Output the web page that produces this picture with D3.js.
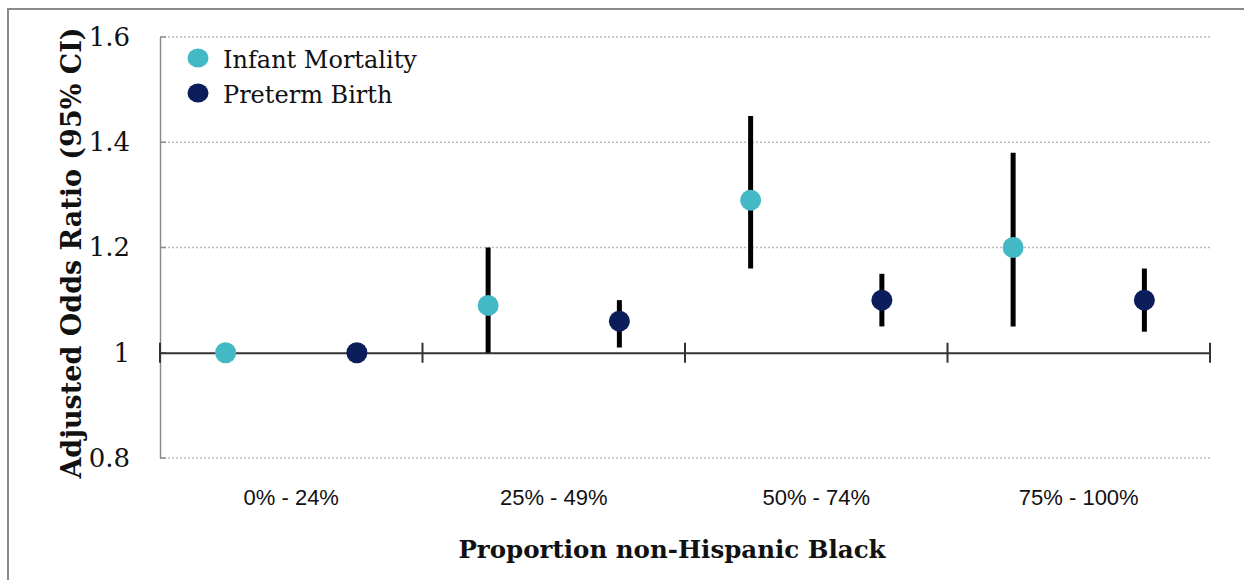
<!DOCTYPE html>
<html>
<head>
<meta charset="utf-8">
<script src="https://cdn.jsdelivr.net/npm/d3@7"></script>
<style>
  html, body { margin: 0; padding: 0; background: #fff; }
  svg { display: block; }
</style>
</head>
<body>
<svg id="chart" width="1244" height="580"></svg>
<script>
// Adjusted odds ratios by neighbourhood racial composition
const categories = ["0% - 24%", "25% - 49%", "50% - 74%", "75% - 100%"];
const seriesNames = ["Infant Mortality", "Preterm Birth"];
const infantOR    = [1.00, 1.09, 1.29, 1.20];
const infantLower = [1.00, 1.00, 1.16, 1.05];
const infantUpper = [1.00, 1.20, 1.45, 1.38];
const pretermOR    = [1.00, 1.06, 1.10, 1.10];
const pretermLower = [1.00, 1.01, 1.05, 1.04];
const pretermUpper = [1.00, 1.10, 1.15, 1.16];
const yTicks = [0.8, 1, 1.2, 1.4, 1.6];

const colors = { "Infant Mortality": "#43b9c6", "Preterm Birth": "#0b1e5b" };
const serif = "'DejaVu Serif', serif";
const sans = "'Liberation Sans', Arial, sans-serif";

const svg = d3.select("#chart");

// outer frame
svg.append("rect")
  .attr("x", 8).attr("y", 9)
  .attr("width", 1300).attr("height", 700)
  .attr("fill", "none").attr("stroke", "#8a8a8a").attr("stroke-width", 2);

const plot = { left: 160, right: 1210, top: 37, bottom: 458 };

const x = d3.scaleBand().domain(categories).range([plot.left, plot.right]).padding(0);
const y = d3.scaleLinear().domain([0.8, 1.6]).range([plot.bottom, plot.top]);

// dotted gridlines
svg.append("g").selectAll("line")
  .data(yTicks.filter(t => t !== 1))
  .join("line")
  .attr("x1", plot.left).attr("x2", plot.right)
  .attr("y1", d => y(d)).attr("y2", d => y(d))
  .attr("stroke", "#bdbdbd").attr("stroke-width", 1.5)
  .attr("stroke-dasharray", "2,2");

// y axis
const yAxis = d3.axisLeft(y).tickValues(yTicks).tickFormat(d => d === 1 ? "1" : d3.format(".1f")(d)).tickSize(0).tickPadding(30);
const gy = svg.append("g").attr("transform", `translate(${plot.left},0)`).call(yAxis);
gy.select(".domain").attr("stroke", "#8a8a8a").attr("stroke-width", 1.5);
gy.selectAll("text")
  .attr("font-family", serif).attr("font-size", 26).attr("fill", "#111");
// short inside tick marks
svg.append("g").selectAll("line")
  .data(yTicks)
  .join("line")
  .attr("x1", plot.left).attr("x2", plot.left + 6)
  .attr("y1", d => y(d)).attr("y2", d => y(d))
  .attr("stroke", "#8a8a8a").attr("stroke-width", 1.5);

// x axis crossing at OR = 1
const xAxis = d3.axisBottom(x).tickSize(0).tickFormat("");
const gx = svg.append("g").attr("transform", `translate(0,${y(1)})`).call(xAxis);
gx.select(".domain").attr("stroke", "#333").attr("stroke-width", 2);
const boundaries = categories.map(c => x(c)).concat([x(categories[categories.length - 1]) + x.bandwidth()]);
gx.selectAll(".sep")
  .data(boundaries)
  .join("line")
  .attr("class", "sep")
  .attr("x1", d => d).attr("x2", d => d)
  .attr("y1", -10).attr("y2", 10)
  .attr("stroke", "#333").attr("stroke-width", 2);

// category labels below plot
svg.append("g").selectAll("text")
  .data(categories)
  .join("text")
  .attr("x", d => x(d) + x.bandwidth() / 2)
  .attr("y", 505)
  .attr("text-anchor", "middle")
  .attr("font-family", sans).attr("font-size", 22).attr("fill", "#111")
  .text(d => d);

// series points and confidence intervals
const series = [
  { name: "Infant Mortality", or: infantOR, lo: infantLower, hi: infantUpper, offset: 0.25 },
  { name: "Preterm Birth", or: pretermOR, lo: pretermLower, hi: pretermUpper, offset: 0.75 }
];

series.forEach(s => {
  const pts = categories.map((c, i) => ({ c, or: s.or[i], lo: s.lo[i], hi: s.hi[i] }));
  const g = svg.append("g");
  g.selectAll("line")
    .data(pts.filter(p => p.hi > p.lo))
    .join("line")
    .attr("x1", p => x(p.c) + x.bandwidth() * s.offset)
    .attr("x2", p => x(p.c) + x.bandwidth() * s.offset)
    .attr("y1", p => y(p.lo)).attr("y2", p => y(p.hi))
    .attr("stroke", "#000").attr("stroke-width", 5);
  g.selectAll("circle")
    .data(pts)
    .join("circle")
    .attr("cx", p => x(p.c) + x.bandwidth() * s.offset)
    .attr("cy", p => y(p.or))
    .attr("r", 10.5)
    .attr("fill", colors[s.name]);
});

// legend
const legend = svg.append("g");
seriesNames.forEach((name, i) => {
  legend.append("ellipse")
    .attr("cx", 198).attr("cy", 58 + i * 35)
    .attr("rx", 10.5).attr("ry", 9.5)
    .attr("fill", colors[name]);
  legend.append("text")
    .attr("x", 223).attr("y", 68 + i * 35)
    .attr("font-family", serif).attr("font-size", 24).attr("fill", "#111")
    .text(name);
});

// axis titles
svg.append("text")
  .attr("transform", `translate(81,253) rotate(-90)`)
  .attr("text-anchor", "middle")
  .attr("font-family", serif).attr("font-weight", "bold").attr("font-size", 27).attr("fill", "#111")
  .text("Adjusted Odds Ratio (95% CI)");

svg.append("text")
  .attr("x", 672).attr("y", 558)
  .attr("text-anchor", "middle")
  .attr("font-family", serif).attr("font-weight", "bold").attr("font-size", 24.5).attr("fill", "#111")
  .text("Proportion non-Hispanic Black");
</script>
</body>
</html>
